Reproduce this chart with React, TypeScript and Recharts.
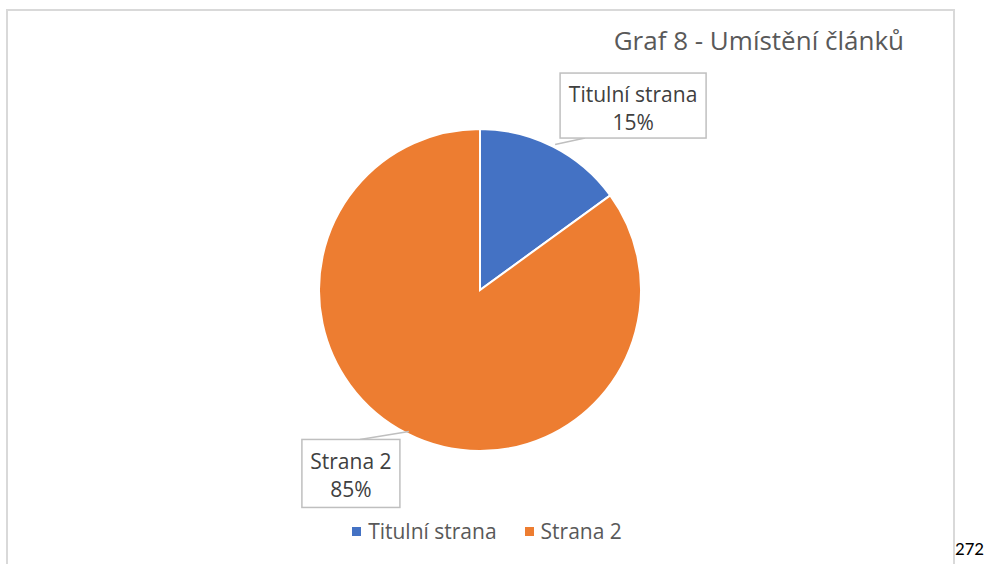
import React from "react";
import { PieChart, Pie, Cell, Legend } from "recharts";

const categories = ["Titulní strana", "Strana 2"];
const shares = [15, 85];
const colors = ["#4472C4", "#ED7D31"];

const data = categories.map((name, i) => ({ name, value: shares[i] }));

// callout box offsets (from slice edge point) and sizes
const boxOffsets = [
  { dx: 80, dy: -41, w: 146, h: 65 },
  { dx: -56, dy: 40, w: 98, h: 68 },
];

const RAD = Math.PI / 180;

const CalloutLabel = (props: any) => {
  const { cx, cy, midAngle, outerRadius, index, name, percent } = props;
  const ex = cx + outerRadius * Math.cos(-midAngle * RAD);
  const ey = cy + outerRadius * Math.sin(-midAngle * RAD);
  const o = boxOffsets[index];
  const bx = ex + o.dx;
  const by = ey + o.dy;
  const left = bx - o.w / 2;
  const top = by - o.h / 2;
  // leader attaches at the box edge nearest to the pie
  const ly = index === 0 ? top + o.h : top;
  const lx = index === 0 ? left + 25 : left + 58;
  return (
    <g>
      <polyline
        points={`${ex + 2},${ey - 2} ${lx},${ly}`}
        fill="none"
        stroke="#bfbfbf"
        strokeWidth={1.5}
      />
      <rect x={left} y={top} width={o.w} height={o.h} fill="#fff" stroke="#bfbfbf" strokeWidth={1.5} />
      <text x={bx} y={by - 4} textAnchor="middle" fill="#404040" fontSize={21}>
        {name}
      </text>
      <text x={bx} y={by + 24} textAnchor="middle" fill="#404040" fontSize={21}>
        {`${Math.round(percent * 100)}%`}
      </text>
    </g>
  );
};

const LegendContent = () => (
  <div style={{ display: "flex", justifyContent: "center", gap: 28, fontFamily: "'Open Sans', sans-serif", fontSize: 21, color: "#595959" }}>
    {categories.map((c, i) => (
      <div key={c} style={{ display: "flex", alignItems: "center" }}>
        <span style={{ width: 9, height: 9, background: colors[i], display: "inline-block", marginRight: 7 }} />
        <span>{c}</span>
      </div>
    ))}
  </div>
);

export default function App() {
  return (
    <div style={{ position: "absolute", left: 0, top: 0, width: 987, height: 564, background: "#fff", overflow: "hidden", fontFamily: "'Open Sans', sans-serif" }}>
      <div style={{ position: "absolute", left: 6, top: 9, width: 945, height: 570, border: "2px solid #d9d9d9" }} />
      <div style={{ position: "absolute", right: 83, top: 22, fontSize: 26, color: "#595959", whiteSpace: "nowrap" }}>
        Graf 8 - Umístění článků
      </div>
      <div style={{ position: "absolute", left: 955, top: 538, fontSize: 19, lineHeight: "22px", color: "#000", fontFamily: "Carlito, 'Liberation Sans', sans-serif" }}>
        272
      </div>
      <div style={{ position: "absolute", left: 0, top: 0 }}>
        <PieChart width={960} height={564} margin={{ top: 0, right: 0, bottom: 0, left: 0 }} style={{ fontFamily: "'Open Sans', sans-serif" }}>
          <Pie
            data={data}
            dataKey="value"
            nameKey="name"
            cx={480}
            cy={290}
            outerRadius={161}
            startAngle={90}
            endAngle={-270}
            stroke="#fff"
            strokeWidth={2}
            label={CalloutLabel}
            labelLine={false}
            isAnimationActive={false}
          >
            {data.map((d, i) => (
              <Cell key={d.name} fill={colors[i]} />
            ))}
          </Pie>
          <Legend
            content={LegendContent}
            wrapperStyle={{ left: 7, width: 960, top: 517 }}
          />
        </PieChart>
      </div>
    </div>
  );
}
